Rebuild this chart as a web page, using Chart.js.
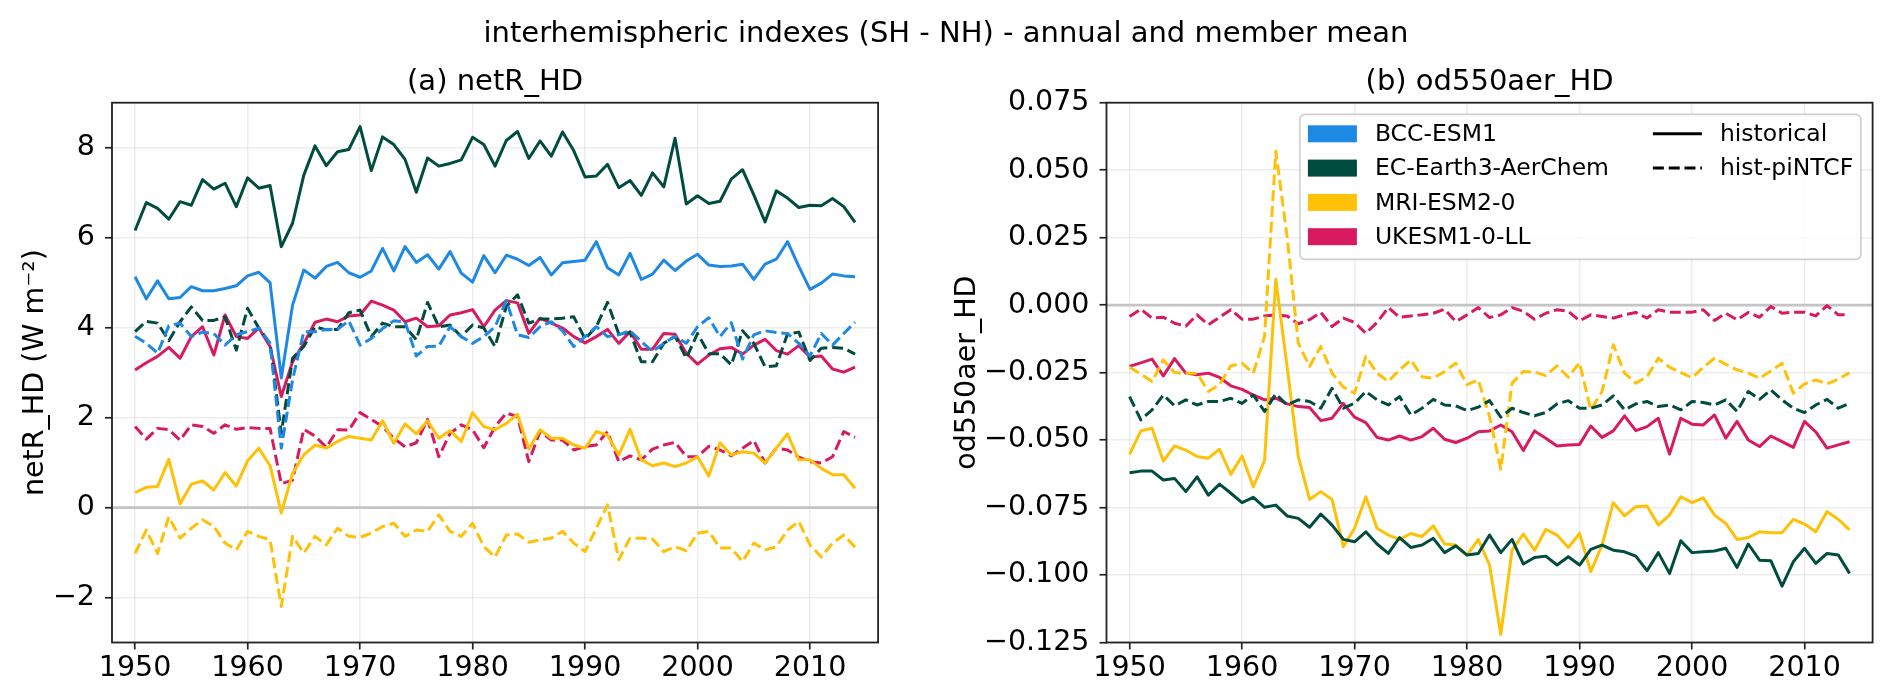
<!DOCTYPE html>
<html>
<head>
<meta charset="utf-8">
<script src="https://cdn.jsdelivr.net/npm/chart.js@4.4.1/dist/chart.umd.min.js"></script>
<style>
html,body{margin:0;padding:0;background:#fff;width:1892px;height:698px;overflow:hidden}
canvas{position:absolute;left:0;top:0}
</style>
</head>
<body>
<canvas id="ca" width="1892" height="698"></canvas>
<canvas id="cb" width="1892" height="698"></canvas>
<script>
// ---------------- data ----------------
const YEARS = [1950,1951,1952,1953,1954,1955,1956,1957,1958,1959,
  1960,1961,1962,1963,1964,1965,1966,1967,1968,1969,
  1970,1971,1972,1973,1974,1975,1976,1977,1978,1979,
  1980,1981,1982,1983,1984,1985,1986,1987,1988,1989,
  1990,1991,1992,1993,1994,1995,1996,1997,1998,1999,
  2000,2001,2002,2003,2004,2005,2006,2007,2008,2009,
  2010,2011,2012,2013,2014];
const X_TICKS = [1950,1960,1970,1980,1990,2000,2010];
const NETR_TICKS = [-2,0,2,4,6,8];
const OD_TICKS = [-0.125,-0.1,-0.075,-0.05,-0.025,0,0.025,0.05,0.075];
const MODELS = ['BCC-ESM1','EC-Earth3-AerChem','MRI-ESM2-0','UKESM1-0-LL'];
const EXPERIMENTS = ['historical','hist-piNTCF'];
const MAIN_TITLE = 'interhemispheric indexes (SH - NH) - annual and member mean';
const TITLE_A = '(a) netR_HD';
const TITLE_B = '(b) od550aer_HD';
const YLABEL_A = 'netR_HD (W m\u207B\u00B2)';
const YLABEL_B = 'od550aer_HD';

// panel (a) netR_HD
const netR_BCC_hist = [5.13,4.64,5.04,4.64,4.67,4.91,4.82,4.82,4.87,4.93,
  5.15,5.23,5.00,2.88,4.50,5.28,5.10,5.36,5.45,5.22,
  5.12,5.26,5.76,5.26,5.80,5.45,5.62,5.30,5.69,5.21,
  5.01,5.60,5.22,5.61,5.52,5.38,5.56,5.17,5.44,5.47,
  5.50,5.91,5.33,5.17,5.65,5.07,5.19,5.50,5.27,5.48,
  5.63,5.39,5.36,5.37,5.41,5.07,5.41,5.52,5.91,5.36,
  4.85,4.99,5.19,5.15,5.13];
const netR_BCC_pi = [3.81,3.65,3.43,4.04,4.10,3.80,3.90,3.87,3.61,3.84,
  3.91,3.99,3.65,1.32,2.84,3.91,3.91,3.96,3.96,4.15,
  3.61,3.76,3.98,4.15,4.13,3.37,3.58,3.59,4.02,3.80,
  3.65,3.80,4.02,4.60,3.84,3.78,4.02,4.13,3.93,3.58,
  3.80,4.02,3.80,3.84,3.93,3.69,3.47,3.65,3.81,3.65,
  4.02,4.22,3.80,4.11,3.30,3.84,3.93,3.89,3.87,3.65,
  3.37,3.87,3.61,3.87,4.12];
const netR_EC_hist = [6.16,6.78,6.65,6.41,6.80,6.72,7.29,7.08,7.21,6.69,
  7.33,7.10,7.16,5.80,6.32,7.39,8.04,7.60,7.91,7.96,
  8.47,7.49,8.24,8.07,7.74,7.01,7.77,7.59,7.65,7.73,
  8.23,8.07,7.59,8.16,8.36,7.76,8.15,7.81,8.35,7.93,
  7.35,7.37,7.63,7.11,7.27,6.94,7.44,7.13,8.21,6.75,
  6.93,6.76,6.81,7.30,7.51,6.95,6.35,7.04,6.88,6.67,
  6.72,6.71,6.87,6.69,6.34];
const netR_EC_pi = [3.91,4.14,4.10,3.71,4.13,4.46,4.16,4.16,4.24,3.50,
  4.43,3.99,3.65,1.65,3.32,3.58,4.02,3.95,3.96,4.33,
  4.39,3.80,4.10,4.02,4.02,3.73,4.56,4.02,4.06,3.80,
  4.06,3.99,3.58,4.47,4.73,4.10,4.19,4.19,4.21,4.24,
  3.75,4.02,4.56,3.86,3.89,3.24,3.24,3.65,3.81,3.32,
  3.87,3.42,3.42,3.17,3.93,3.65,3.13,3.15,3.86,3.90,
  3.27,3.54,3.56,3.54,3.41];
const netR_MRI_hist = [0.33,0.45,0.47,1.07,0.08,0.52,0.59,0.39,0.78,0.48,
  1.04,1.32,0.93,-0.12,0.76,1.17,1.39,1.32,1.47,1.58,
  1.54,1.50,1.93,1.43,1.86,1.64,1.93,1.54,1.71,1.47,
  2.11,1.80,1.73,1.87,2.07,1.30,1.73,1.54,1.54,1.39,
  1.32,1.69,1.61,1.17,1.74,1.06,0.93,0.99,0.91,0.99,
  1.13,0.70,1.44,1.17,1.24,1.21,0.99,1.32,1.64,1.06,
  1.06,0.87,0.73,0.73,0.43];
const netR_MRI_pi = [-1.02,-0.50,-1.02,-0.21,-0.68,-0.46,-0.27,-0.42,-0.79,-0.94,
  -0.53,-0.64,-0.72,-2.20,-0.64,-1.01,-0.64,-0.83,-0.46,-0.64,
  -0.66,-0.57,-0.42,-0.35,-0.64,-0.50,-0.53,-0.16,-0.53,-0.64,
  -0.35,-0.87,-1.10,-0.61,-0.59,-0.77,-0.72,-0.68,-0.53,-0.79,
  -0.98,-0.46,0.06,-1.16,-0.68,-0.68,-0.70,-0.98,-0.87,-0.96,
  -0.57,-0.53,-0.90,-0.90,-1.20,-0.79,-0.94,-0.87,-0.50,-0.31,
  -0.83,-1.10,-0.79,-0.61,-0.88];
const netR_UK_hist = [3.06,3.22,3.36,3.56,3.32,3.80,4.02,3.39,4.28,3.80,
  3.76,3.99,3.58,2.47,3.24,3.65,4.12,4.19,4.13,4.26,
  4.28,4.59,4.50,4.39,4.13,4.21,4.02,4.04,4.28,4.33,
  4.40,4.02,4.39,4.60,4.55,3.87,4.21,4.10,3.99,3.80,
  3.66,3.80,3.96,3.65,3.91,3.52,3.52,3.87,3.85,3.43,
  3.19,3.39,3.53,3.56,3.41,3.61,3.74,3.49,3.41,3.60,
  3.34,3.37,3.08,3.01,3.12];
const netR_UK_pi = [1.80,1.52,1.76,1.73,1.50,1.84,1.80,1.65,1.84,1.74,
  1.78,1.76,1.76,0.53,0.61,1.74,1.59,1.34,1.73,1.72,
  2.11,1.96,1.80,1.54,1.35,1.44,1.96,1.13,1.65,1.84,
  1.73,1.33,1.80,2.10,2.02,1.02,1.69,1.50,1.50,1.28,
  1.36,1.39,1.69,1.02,1.15,1.06,1.30,1.39,1.45,1.13,
  1.13,1.36,1.28,1.15,1.32,1.49,0.99,1.32,1.28,1.12,
  1.02,0.99,1.13,1.69,1.56];

// panel (b) od550aer_HD
const od_EC_hist = [-0.0621,-0.0615,-0.0615,-0.0648,-0.0642,-0.0691,-0.0636,-0.0704,-0.0663,-0.0697,
  -0.0732,-0.0712,-0.0749,-0.0741,-0.0781,-0.0790,-0.0823,-0.0774,-0.0815,-0.0868,
  -0.0877,-0.0840,-0.0885,-0.0920,-0.0861,-0.0898,-0.0889,-0.0864,-0.0917,-0.0892,
  -0.0926,-0.0920,-0.0852,-0.0917,-0.0868,-0.0959,-0.0935,-0.0930,-0.0963,-0.0932,
  -0.0963,-0.0905,-0.0889,-0.0908,-0.0914,-0.0930,-0.0984,-0.0917,-0.0994,-0.0873,
  -0.0917,-0.0914,-0.0911,-0.0901,-0.0972,-0.0885,-0.0945,-0.0947,-0.1041,-0.0951,
  -0.0901,-0.0957,-0.0920,-0.0926,-0.0994];
const od_EC_pi = [-0.0339,-0.0425,-0.0388,-0.0333,-0.0373,-0.0351,-0.0370,-0.0357,-0.0357,-0.0345,
  -0.0364,-0.0333,-0.0394,-0.0329,-0.0370,-0.0351,-0.0357,-0.0382,-0.0308,-0.0382,
  -0.0364,-0.0320,-0.0351,-0.0370,-0.0339,-0.0407,-0.0382,-0.0349,-0.0370,-0.0373,
  -0.0391,-0.0378,-0.0354,-0.0415,-0.0382,-0.0398,-0.0410,-0.0398,-0.0366,-0.0354,
  -0.0382,-0.0382,-0.0370,-0.0336,-0.0388,-0.0366,-0.0357,-0.0376,-0.0370,-0.0388,
  -0.0357,-0.0361,-0.0370,-0.0351,-0.0394,-0.0320,-0.0349,-0.0314,-0.0351,-0.0382,
  -0.0398,-0.0370,-0.0349,-0.0382,-0.0364];
const od_MRI_hist = [-0.0553,-0.0466,-0.0456,-0.0578,-0.0522,-0.0537,-0.0561,-0.0567,-0.0534,-0.0627,
  -0.0559,-0.0673,-0.0576,0.0096,-0.0227,-0.0561,-0.0720,-0.0691,-0.0720,-0.0895,
  -0.0827,-0.0710,-0.0827,-0.0852,-0.0868,-0.0846,-0.0858,-0.0818,-0.0885,-0.0889,
  -0.0926,-0.0868,-0.0963,-0.1220,-0.0908,-0.0848,-0.0908,-0.0831,-0.0852,-0.0898,
  -0.0846,-0.0988,-0.0889,-0.0732,-0.0781,-0.0747,-0.0744,-0.0815,-0.0778,-0.0710,
  -0.0732,-0.0714,-0.0778,-0.0809,-0.0868,-0.0861,-0.0840,-0.0843,-0.0843,-0.0794,
  -0.0811,-0.0840,-0.0765,-0.0794,-0.0833];
const od_MRI_pi = [-0.0230,-0.0256,-0.0283,-0.0203,-0.0250,-0.0252,-0.0252,-0.0320,-0.0295,-0.0225,
  -0.0215,-0.0252,-0.0116,0.0570,0.0255,-0.0141,-0.0227,-0.0153,-0.0252,-0.0304,
  -0.0326,-0.0190,-0.0252,-0.0283,-0.0240,-0.0203,-0.0265,-0.0271,-0.0246,-0.0215,
  -0.0295,-0.0277,-0.0413,-0.0608,-0.0289,-0.0246,-0.0248,-0.0261,-0.0225,-0.0267,
  -0.0213,-0.0388,-0.0320,-0.0147,-0.0252,-0.0289,-0.0265,-0.0197,-0.0230,-0.0250,
  -0.0269,-0.0230,-0.0197,-0.0219,-0.0240,-0.0252,-0.0271,-0.0244,-0.0215,-0.0326,
  -0.0292,-0.0277,-0.0292,-0.0274,-0.0250];
const od_UK_hist = [-0.0227,-0.0214,-0.0200,-0.0262,-0.0198,-0.0252,-0.0258,-0.0252,-0.0268,-0.0299,
  -0.0312,-0.0333,-0.0351,-0.0345,-0.0366,-0.0376,-0.0379,-0.0428,-0.0419,-0.0364,
  -0.0415,-0.0435,-0.0490,-0.0500,-0.0485,-0.0500,-0.0487,-0.0456,-0.0497,-0.0509,
  -0.0493,-0.0469,-0.0466,-0.0444,-0.0469,-0.0539,-0.0466,-0.0493,-0.0522,-0.0518,
  -0.0516,-0.0448,-0.0490,-0.0466,-0.0410,-0.0465,-0.0450,-0.0419,-0.0552,-0.0419,
  -0.0441,-0.0444,-0.0407,-0.0493,-0.0431,-0.0500,-0.0524,-0.0485,-0.0506,-0.0527,
  -0.0431,-0.0470,-0.0530,-0.0518,-0.0506];
const od_UK_pi = [-0.0042,-0.0015,-0.0048,-0.0045,-0.0067,-0.0078,-0.0036,-0.0073,-0.0045,-0.0017,
  -0.0052,-0.0052,-0.0040,-0.0036,-0.0040,-0.0069,-0.0054,-0.0027,-0.0079,-0.0048,
  -0.0064,-0.0104,-0.0064,-0.0009,-0.0045,-0.0040,-0.0036,-0.0030,-0.0015,-0.0061,
  -0.0036,-0.0009,-0.0046,-0.0036,-0.0009,-0.0023,-0.0052,-0.0030,-0.0017,-0.0023,
  -0.0058,-0.0036,-0.0042,-0.0048,-0.0036,-0.0027,-0.0048,-0.0017,-0.0026,-0.0026,
  -0.0026,-0.0017,-0.0057,-0.0030,-0.0054,-0.0027,-0.0045,-0.0005,-0.0030,-0.0026,
  -0.0026,-0.0040,-0.0002,-0.0036,-0.0036];

// ---------------- styles ----------------
const COLORS = {'BCC-ESM1':'#1E88E5','EC-Earth3-AerChem':'#004D40','MRI-ESM2-0':'#FFC107','UKESM1-0-LL':'#D81B60'};
const LW = 3;
const DASH = [11, 4.8];
const FONT = 'DejaVu Sans';
const X_MIN = 1947.95, X_MAX = 2016.05;
Chart.defaults.font.family = FONT;
Chart.defaults.color = '#000';

function ds(model, exp, data) {
  const c = COLORS[model];
  return {label: model + ' ' + exp, data: data, borderColor: c, backgroundColor: c,
    borderWidth: LW, borderDash: exp === 'historical' ? [] : DASH, fill: false,
    pointRadius: 0, tension: 0, borderJoinStyle: 'round', borderCapStyle: 'butt'};
}
const minus = s => s.replace('-', '\u2212');

function deco(cfg) {
  return {
    id: 'deco',
    beforeDatasetsDraw(chart) {
      const {ctx, chartArea: ca} = chart;
      const py = chart.scales.y.getPixelForValue(0);
      ctx.save();
      ctx.strokeStyle = '#c4c4c4'; ctx.lineWidth = 2.8;
      ctx.beginPath(); ctx.moveTo(ca.left, py); ctx.lineTo(ca.right, py); ctx.stroke();
      ctx.restore();
    },
    afterDatasetsDraw(chart) {
      const {ctx, chartArea: ca} = chart;
      ctx.save();
      ctx.strokeStyle = '#222'; ctx.lineWidth = 1.8;
      ctx.strokeRect(ca.left, ca.top, ca.right - ca.left, ca.bottom - ca.top);
      ctx.restore();
    },
    afterDraw(chart) {
      const {ctx, chartArea: ca} = chart;
      ctx.save();
      ctx.fillStyle = '#000';
      if (cfg.main) {
        ctx.font = '29px "' + FONT + '"';
        ctx.textAlign = 'center'; ctx.textBaseline = 'alphabetic';
        ctx.fillText(MAIN_TITLE, 946, 41.5);
      }
      ctx.font = '29px "' + FONT + '"';
      ctx.textAlign = 'center'; ctx.textBaseline = 'alphabetic';
      ctx.fillText(cfg.title, (ca.left + ca.right) / 2, ca.top - 12.5);
      // y label
      ctx.save();
      ctx.translate(ca.left - cfg.ylabOff, (ca.top + ca.bottom) / 2);
      ctx.rotate(-Math.PI / 2);
      ctx.font = '28.5px "' + FONT + '"';
      ctx.textAlign = 'center'; ctx.textBaseline = 'alphabetic';
      ctx.fillText(cfg.ylabel, 0, 0);
      ctx.restore();
      if (cfg.legend) drawLegend(ctx, ca);
      ctx.restore();
    }
  };
}

function rr(ctx, x, y, w, h, r) {
  ctx.beginPath();
  ctx.moveTo(x + r, y); ctx.lineTo(x + w - r, y); ctx.arcTo(x + w, y, x + w, y + r, r);
  ctx.lineTo(x + w, y + h - r); ctx.arcTo(x + w, y + h, x + w - r, y + h, r);
  ctx.lineTo(x + r, y + h); ctx.arcTo(x, y + h, x, y + h - r, r);
  ctx.lineTo(x, y + r); ctx.arcTo(x, y, x + r, y, r); ctx.closePath();
}

function drawLegend(ctx, ca) {
  const w = 561, h = 145;
  const x = ca.right - 11.7 - w, y = ca.top + 11.7;
  ctx.save();
  rr(ctx, x, y, w, h, 5);
  ctx.fillStyle = 'rgba(255,255,255,0.8)'; ctx.fill();
  ctx.strokeStyle = '#d0d0d0'; ctx.lineWidth = 1.7; ctx.stroke();
  ctx.font = '23.5px "' + FONT + '"';
  ctx.textBaseline = 'middle'; ctx.textAlign = 'left';
  MODELS.forEach((m, i) => {
    const cy = y + 19.4 + i * 34.3;
    ctx.fillStyle = COLORS[m];
    ctx.fillRect(x + 8, cy - 8.5, 49, 17);
    ctx.fillStyle = '#000';
    ctx.fillText(m, x + 75, cy + 1);
  });
  EXPERIMENTS.forEach((e, i) => {
    const cy = y + 19.4 + i * 34.3;
    ctx.strokeStyle = '#000'; ctx.lineWidth = LW;
    ctx.setLineDash(e === 'historical' ? [] : DASH);
    ctx.beginPath(); ctx.moveTo(x + 353, cy); ctx.lineTo(x + 402, cy); ctx.stroke();
    ctx.setLineDash([]);
    ctx.fillStyle = '#000';
    ctx.fillText(e, x + 420, cy + 1);
  });
  ctx.restore();
}

function options(pad, yMin, yMax, yTicks, yFmt, yWidth) {
  const grid = {color: 'rgba(0,0,0,0.07)', lineWidth: 1.5, tickColor: '#222', tickWidth: 1.7, tickLength: 7, drawTicks: true};
  return {
    responsive: false, animation: false, events: [],
    layout: {padding: pad},
    plugins: {legend: {display: false}, title: {display: false}, tooltip: {enabled: false}},
    scales: {
      x: {type: 'linear', min: X_MIN, max: X_MAX,
        afterBuildTicks: s => { s.ticks = X_TICKS.map(v => ({value: v})); },
        afterFit: s => { s.height = 55; },
        grid: grid, border: {display: false},
        ticks: {autoSkip: false, maxRotation: 0, minRotation: 0, padding: 2, color: '#000',
          font: {size: 28.5}, callback: v => String(v)}},
      y: {type: 'linear', min: yMin, max: yMax,
        afterBuildTicks: s => { s.ticks = yTicks.map(v => ({value: v})); },
        afterFit: s => { s.width = yWidth; },
        grid: grid, border: {display: false},
        ticks: {autoSkip: false, padding: 10, color: '#000', font: {size: 28.5}, callback: yFmt}}
    }
  };
}

new Chart(document.getElementById('ca'), {
  type: 'line',
  data: {labels: YEARS, datasets: [
    ds(MODELS[0], EXPERIMENTS[0], netR_BCC_hist), ds(MODELS[0], EXPERIMENTS[1], netR_BCC_pi),
    ds(MODELS[1], EXPERIMENTS[0], netR_EC_hist), ds(MODELS[1], EXPERIMENTS[1], netR_EC_pi),
    ds(MODELS[2], EXPERIMENTS[0], netR_MRI_hist), ds(MODELS[2], EXPERIMENTS[1], netR_MRI_pi),
    ds(MODELS[3], EXPERIMENTS[0], netR_UK_hist), ds(MODELS[3], EXPERIMENTS[1], netR_UK_pi)
  ]},
  options: options({left: 0, top: 102.7, right: 1892 - 878.1, bottom: 0.5}, -3, 9, NETR_TICKS,
    v => minus(String(v)), 112),
  plugins: [deco({main: true, title: TITLE_A, ylabel: YLABEL_A, ylabOff: 68.7, legend: false})]
});

new Chart(document.getElementById('cb'), {
  type: 'line',
  data: {labels: YEARS, datasets: [
    ds(MODELS[1], EXPERIMENTS[0], od_EC_hist), ds(MODELS[1], EXPERIMENTS[1], od_EC_pi),
    ds(MODELS[2], EXPERIMENTS[0], od_MRI_hist), ds(MODELS[2], EXPERIMENTS[1], od_MRI_pi),
    ds(MODELS[3], EXPERIMENTS[0], od_UK_hist), ds(MODELS[3], EXPERIMENTS[1], od_UK_pi)
  ]},
  options: options({left: 1106.5 - 200, top: 102.7, right: 1892 - 1872.6, bottom: 0.5}, -0.125, 0.075, OD_TICKS,
    v => minus(Number(v).toFixed(3)), 200),
  plugins: [deco({main: false, title: TITLE_B, ylabel: YLABEL_B, ylabOff: 131.5, legend: true})]
});
</script>
</body>
</html>
